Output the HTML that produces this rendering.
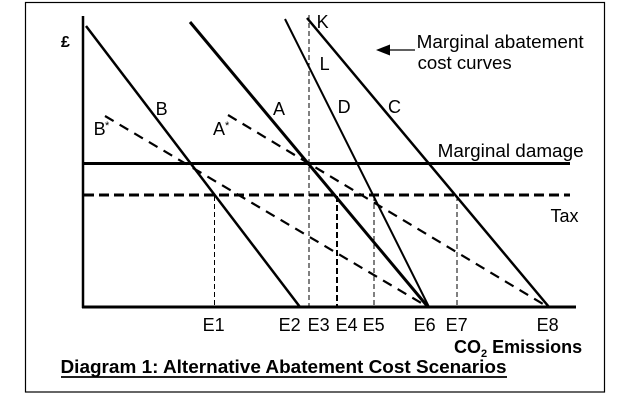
<!DOCTYPE html>
<html>
<head>
<meta charset="utf-8">
<style>
  html, body { margin: 0; padding: 0; background: #fff; }
  svg { display: block; }
  text { font-family: "Liberation Sans", Arial, sans-serif; fill: #000; }
</style>
</head>
<body>
<svg width="622" height="402" viewBox="0 0 622 402" xmlns="http://www.w3.org/2000/svg">
  <rect x="0" y="0" width="622" height="402" fill="#fff"/>
  <!-- outer box -->
  <rect x="25.5" y="2.5" width="579" height="389.5" fill="none" stroke="#000" stroke-width="1.2"/>

  <!-- axes -->
  <line x1="83" y1="16" x2="83" y2="308" stroke="#000" stroke-width="2.5"/>
  <line x1="82" y1="307" x2="576" y2="307" stroke="#000" stroke-width="3"/>

  <!-- marginal damage -->
  <line x1="83" y1="163.5" x2="570" y2="163.5" stroke="#000" stroke-width="3"/>
  <!-- tax -->
  <line x1="84" y1="195" x2="570" y2="195" stroke="#000" stroke-width="3" stroke-dasharray="10,5"/>

  <!-- vertical dashed guides -->
  <line x1="309" y1="15" x2="309" y2="307" stroke="#000" stroke-width="1" stroke-dasharray="5,3"/>
  <line x1="214.5" y1="196" x2="214.5" y2="307" stroke="#000" stroke-width="1" stroke-dasharray="5,3"/>
  <line x1="337" y1="196" x2="337" y2="307" stroke="#000" stroke-width="2" stroke-dasharray="6,3"/>
  <line x1="374" y1="196" x2="374" y2="307" stroke="#000" stroke-width="1" stroke-dasharray="5,3"/>
  <line x1="457" y1="196" x2="457" y2="307" stroke="#000" stroke-width="1" stroke-dasharray="5,3"/>

  <!-- solid MAC curves -->
  <line x1="86" y1="26" x2="300" y2="307" stroke="#000" stroke-width="2.5"/>
  <line x1="190" y1="22" x2="428" y2="307" stroke="#000" stroke-width="3"/>
  <line x1="285" y1="19" x2="429" y2="307" stroke="#000" stroke-width="2"/>
  <line x1="307" y1="18" x2="549" y2="307" stroke="#000" stroke-width="2.5"/>

  <!-- dashed MAC curves -->
  <line x1="105" y1="116" x2="428" y2="307" stroke="#000" stroke-width="2.2" stroke-dasharray="10,7"/>
  <line x1="228" y1="115" x2="548" y2="307" stroke="#000" stroke-width="2.2" stroke-dasharray="10,7"/>

  <!-- arrow -->
  <line x1="386" y1="50" x2="415" y2="50" stroke="#000" stroke-width="1.3"/>
  <polygon points="376,50 390,44.5 390,55.5" fill="#000"/>

  <!-- labels -->
  <text x="61" y="47" font-size="16" font-weight="bold">£</text>
  <text x="155.6" y="115" font-size="18">B</text>
  <text x="273" y="115" font-size="18">A</text>
  <text x="93.6" y="135" font-size="18">B</text>
  <text x="105" y="129" font-size="11">*</text>
  <text x="213" y="135" font-size="18">A</text>
  <text x="225" y="129" font-size="11">*</text>
  <text x="316.6" y="28" font-size="18">K</text>
  <text x="319.6" y="70" font-size="18">L</text>
  <text x="337.6" y="113" font-size="18">D</text>
  <text x="388" y="113" font-size="18">C</text>

  <text x="416.6" y="48" font-size="18.6" textLength="167" lengthAdjust="spacingAndGlyphs">Marginal abatement</text>
  <text x="417.6" y="69" font-size="18.6">cost curves</text>
  <text x="437.6" y="157" font-size="18.6" textLength="146" lengthAdjust="spacingAndGlyphs">Marginal damage</text>
  <text x="550.5" y="222" font-size="18">Tax</text>

  <text x="202.6" y="331" font-size="18">E1</text>
  <text x="278.6" y="331" font-size="18">E2</text>
  <text x="307.6" y="331" font-size="18">E3</text>
  <text x="335.6" y="331" font-size="18">E4</text>
  <text x="362.6" y="331" font-size="18">E5</text>
  <text x="413.6" y="331" font-size="18">E6</text>
  <text x="445.6" y="331" font-size="18">E7</text>
  <text x="536.6" y="331" font-size="18">E8</text>

  <text x="454" y="353" font-size="18" font-weight="bold">CO<tspan font-size="11" dy="4">2</tspan><tspan dy="-4"> Emissions</tspan></text>

  <text x="60.5" y="373" font-size="18.8" font-weight="bold" textLength="446" lengthAdjust="spacingAndGlyphs">Diagram 1: Alternative Abatement Cost Scenarios</text>
  <line x1="61" y1="377" x2="507" y2="377" stroke="#000" stroke-width="1.8"/>
</svg>
</body>
</html>
